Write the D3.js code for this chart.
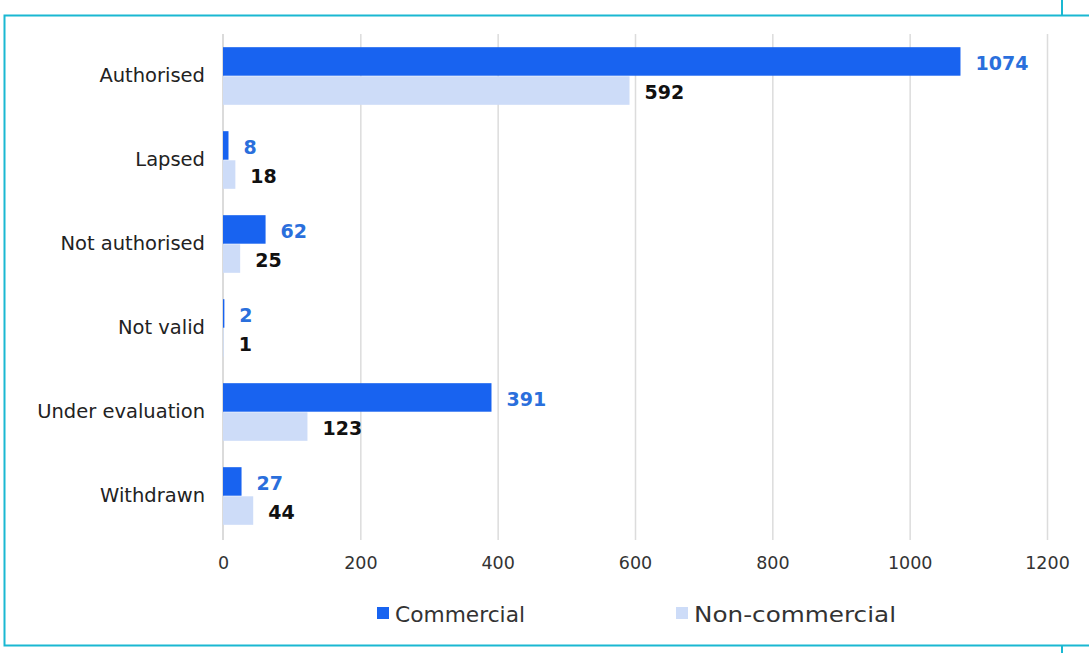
<!DOCTYPE html>
<html><head><meta charset="utf-8">
<script src="https://cdn.jsdelivr.net/npm/d3@7"></script>
<style>body{margin:0;background:#fff;}svg{display:block;font-family:"DejaVu Sans",Verdana,sans-serif;}</style>
</head><body>
<script>
const categories = ["Authorised","Lapsed","Not authorised","Not valid","Under evaluation","Withdrawn"];
const commercial = [1074, 8, 62, 2, 391, 27];
const nonCommercial = [592, 18, 25, 1, 123, 44];
const seriesNames = ["Commercial","Non-commercial"];
const xTicks = [0,200,400,600,800,1000,1200];

const W=1089,H=653;
const svg=d3.select("body").append("svg").attr("width",W).attr("height",H);

// frame
svg.append("path").attr("d","M1089,15.5 H4.5 V645.5 H1089").attr("fill","none").attr("stroke","#1ab8d2").attr("stroke-width",2);
svg.append("line").attr("x1",1062).attr("x2",1062).attr("y1",0).attr("y2",15).attr("stroke","#1ab8d2").attr("stroke-width",2);
svg.append("line").attr("x1",1062).attr("x2",1062).attr("y1",646).attr("y2",653).attr("stroke","#1ab8d2").attr("stroke-width",2);

const x=d3.scaleLinear().domain([0,1200]).range([223,1047]);
const y=d3.scaleBand().domain(categories).range([34,538]).paddingInner(0.3).paddingOuter(0.15);
const sub=d3.scaleBand().domain(seriesNames).range([0,y.bandwidth()]).padding(0.02);
const colors={"Commercial":"#1863f0","Non-commercial":"#cddcf8"};
const labelColors={"Commercial":"#2a6fdc","Non-commercial":"#111"};

// grid
svg.append("g").selectAll("line").data(xTicks.slice(1)).join("line")
  .attr("x1",d=>x(d)+0.5).attr("x2",d=>x(d)+0.5).attr("y1",34).attr("y2",540)
  .attr("stroke","#dcdcdc").attr("stroke-width",1.5);
// left axis line
svg.append("line").attr("x1",x(0)).attr("x2",x(0)).attr("y1",34).attr("y2",540).attr("stroke","#cfcfcf").attr("stroke-width",1.5);

// x ticks
const xa=svg.append("g").attr("transform","translate(0,540)").call(d3.axisBottom(x).tickValues(xTicks).tickFormat(d3.format("d")).tickSize(0).tickPadding(17));
xa.select(".domain").remove();
xa.selectAll("text").attr("font-size",17.5).attr("fill","#333").attr("font-family","DejaVu Sans");

// y labels
const ya=svg.append("g").attr("transform","translate(205,0)").call(d3.axisLeft(y).tickSize(0).tickPadding(0));
ya.select(".domain").remove();
ya.selectAll("text").attr("font-size",19.5).attr("fill","#222").attr("font-family","DejaVu Sans");

const data=categories.map((c,i)=>({cat:c,vals:[{s:"Commercial",v:commercial[i]},{s:"Non-commercial",v:nonCommercial[i]}]}));
const g=svg.append("g").selectAll("g").data(data).join("g").attr("transform",d=>`translate(0,${y(d.cat)})`);
g.selectAll("rect").data(d=>d.vals).join("rect")
  .attr("x",x(0)).attr("y",d=>sub(d.s)).attr("height",sub.bandwidth())
  .attr("width",d=>x(d.v)-x(0)).attr("fill",d=>colors[d.s]);
g.selectAll("text").data(d=>d.vals).join("text")
  .attr("x",d=>x(d.v)+15).attr("y",d=>sub(d.s)+sub.bandwidth()/2+2).attr("dy","0.36em")
  .attr("font-size",19).attr("font-weight","bold").attr("fill",d=>labelColors[d.s]).text(d=>d.v);

// legend
const legX=[377,676];
const legLen=[130,202];
const lg=svg.append("g").selectAll("g").data(seriesNames).join("g").attr("transform",(d,i)=>`translate(${legX[i]},607)`);
lg.append("rect").attr("width",12).attr("height",12).attr("fill",d=>colors[d]);
lg.append("text").attr("x",18).attr("y",7).attr("dy","0.36em").attr("font-size",21.5).attr("fill","#333")
  .attr("textLength",(d,i)=>legLen[i]).attr("lengthAdjust","spacingAndGlyphs").text(d=>d);
</script>
</body></html>
